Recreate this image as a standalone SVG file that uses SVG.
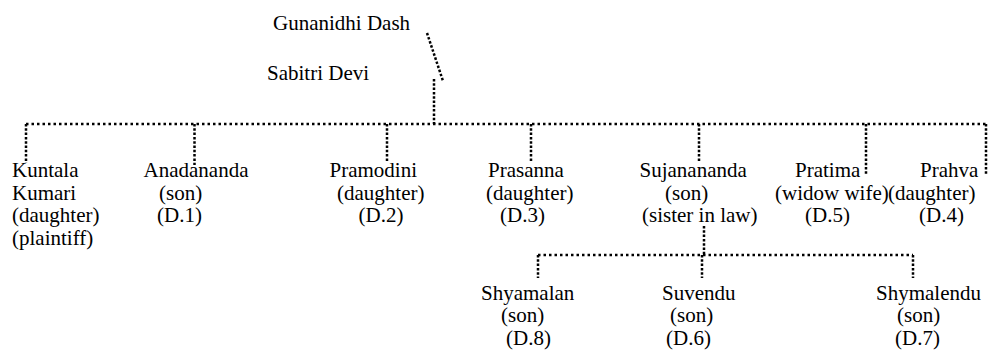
<svg xmlns="http://www.w3.org/2000/svg" width="993" height="351" viewBox="0 0 993 351">
<style>
.t text{font-size:21px;fill:#000}
.h{stroke:#000;stroke-width:2.5;stroke-dasharray:2.5 3;fill:none}
.v{stroke:#000;stroke-width:2.5;stroke-dasharray:2.5 1.8;fill:none}
</style>
<rect width="993" height="351" fill="#fff"/>
<g id="connectors">
<line class="v" x1="427" y1="33" x2="443" y2="81"/>
<line class="v" x1="434" y1="79" x2="434" y2="124"/>
<line class="h" x1="26" y1="124" x2="986" y2="124"/>
<line class="v" x1="26" y1="124" x2="26" y2="163"/>
<line class="v" x1="194.5" y1="124" x2="194.5" y2="165"/>
<line class="v" x1="387" y1="124" x2="387" y2="162"/>
<line class="v" x1="531" y1="124" x2="531" y2="162"/>
<line class="v" x1="699" y1="124" x2="699" y2="162"/>
<line class="v" x1="866" y1="124" x2="866" y2="175"/>
<line class="v" x1="986" y1="124" x2="986" y2="175"/>
<line class="v" x1="704" y1="226" x2="704" y2="255"/>
<line class="h" x1="538" y1="255" x2="913" y2="255"/>
<line class="v" x1="538" y1="255" x2="538" y2="278"/>
<line class="v" x1="702" y1="255" x2="702" y2="278"/>
<line class="v" x1="913" y1="255" x2="913" y2="278"/>
</g>
<g class="t" font-family="'Liberation Serif', 'DejaVu Serif', serif">
<g id="gunanidhi"><text x="273" y="30">Gunanidhi Dash</text></g>
<g id="sabitri"><text x="267" y="80">Sabitri Devi</text></g>
<g id="kuntala">
<text x="12" y="177">Kuntala</text>
<text x="12" y="200">Kumari</text>
<text x="12" y="222">(daughter)</text>
<text x="12" y="245">(plaintiff)</text>
</g>
<g id="anadananda">
<text x="143.5" y="177">Anadananda</text>
<text x="159" y="200">(son)</text>
<text x="157" y="222">(D.1)</text>
</g>
<g id="pramodini">
<text x="329.5" y="177">Pramodini</text>
<text x="337" y="200">(daughter)</text>
<text x="358.5" y="222">(D.2)</text>
</g>
<g id="prasanna">
<text x="488" y="177">Prasanna</text>
<text x="486" y="200">(daughter)</text>
<text x="500" y="222">(D.3)</text>
</g>
<g id="sujanananda">
<text x="639.5" y="177">Sujanananda</text>
<text x="665" y="200">(son)</text>
<text x="642" y="222">(sister in law)</text>
</g>
<g id="pratima">
<text x="795" y="177">Pratima</text>
<text x="775" y="200">(widow wife)</text>
<text x="805" y="222">(D.5)</text>
</g>
<g id="prahva">
<text x="920" y="177">Prahva</text>
<text x="888" y="200">(daughter)</text>
<text x="919" y="222">(D.4)</text>
</g>
<g id="shyamalan">
<text x="481" y="300">Shyamalan</text>
<text x="501" y="322">(son)</text>
<text x="506" y="345">(D.8)</text>
</g>
<g id="suvendu">
<text x="662" y="300">Suvendu</text>
<text x="670" y="322">(son)</text>
<text x="666" y="345">(D.6)</text>
</g>
<g id="shymalendu">
<text x="876" y="300">Shymalendu</text>
<text x="897" y="322">(son)</text>
<text x="895" y="345">(D.7)</text>
</g>
</g>
</svg>
